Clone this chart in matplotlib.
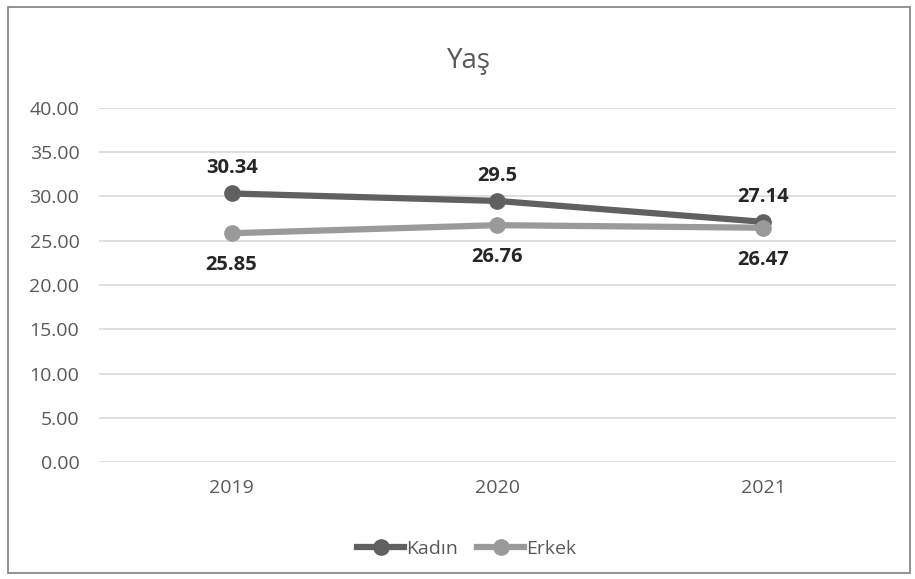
import matplotlib
matplotlib.use("Agg")
from matplotlib import pyplot as plt
from matplotlib.patches import Rectangle

# yaş ortalamaları
years = ["2019", "2020", "2021"]
kadin = [30.34, 29.5, 27.14]
erkek = [25.85, 26.76, 26.47]
kadin_labels = ["30.34", "29.5", "27.14"]
erkek_labels = ["25.85", "26.76", "26.47"]
y_ticks = [0, 5, 10, 15, 20, 25, 30, 35, 40]

plt.rcParams['font.family'] = ['Open Sans', 'DejaVu Sans']

fig = plt.figure(figsize=(9.15, 5.79), dpi=100)
fig.patch.set_facecolor("white")
ax = fig.add_axes([0.108, 0.202, 0.871, 0.6115])

x = list(range(len(years)))
ax.plot(x, kadin, color="#606060", lw=4.5, marker="o", ms=11, label="Kadın", zorder=3)
ax.plot(x, erkek, color="#9a9a9a", lw=4.5, marker="o", ms=11, label="Erkek", zorder=3)

# değer etiketleri
for i, v in enumerate(kadin):
    ax.annotate(kadin_labels[i], (i, v), xytext=(0, 11), textcoords="offset points",
                ha="center", va="bottom", fontsize=14.5, fontweight="bold", color="#262626")
for i, v in enumerate(erkek):
    ax.annotate(erkek_labels[i], (i, v), xytext=(0, -16), textcoords="offset points",
                ha="center", va="top", fontsize=14.5, fontweight="bold", color="#262626")

ax.set_xlim(-0.5, 2.5)
ax.set_ylim(0, 40)
ax.set_xticks(x)
ax.set_xticklabels(years)
ax.set_yticks(y_ticks)
ax.set_yticklabels([f"{t:.2f}" for t in y_ticks])
ax.tick_params(axis="both", length=0, labelsize=14, colors="#595959")
ax.tick_params(axis="x", pad=12)
ax.tick_params(axis="y", pad=14)
ax.grid(axis="y", color="#d9d9d9", lw=1.2)
ax.set_axisbelow(True)
for s in ax.spines.values():
    s.set_visible(False)

fig.text(0.513, 0.895, "Yaş", ha="center", va="center", fontsize=20, color="#595959")

fig.legend(loc="center", bbox_to_anchor=(0.51, 0.052), ncol=2, frameon=False,
           fontsize=14, handlelength=2.4, columnspacing=1.0, handletextpad=0.1,
           labelcolor="#595959")

# çerçeve
fig.add_artist(Rectangle((0.009, 0.01), 0.985, 0.978, transform=fig.transFigure,
                         fill=False, ec="#7f7f7f", lw=1.2))

fig.savefig("out.png", dpi=100)
